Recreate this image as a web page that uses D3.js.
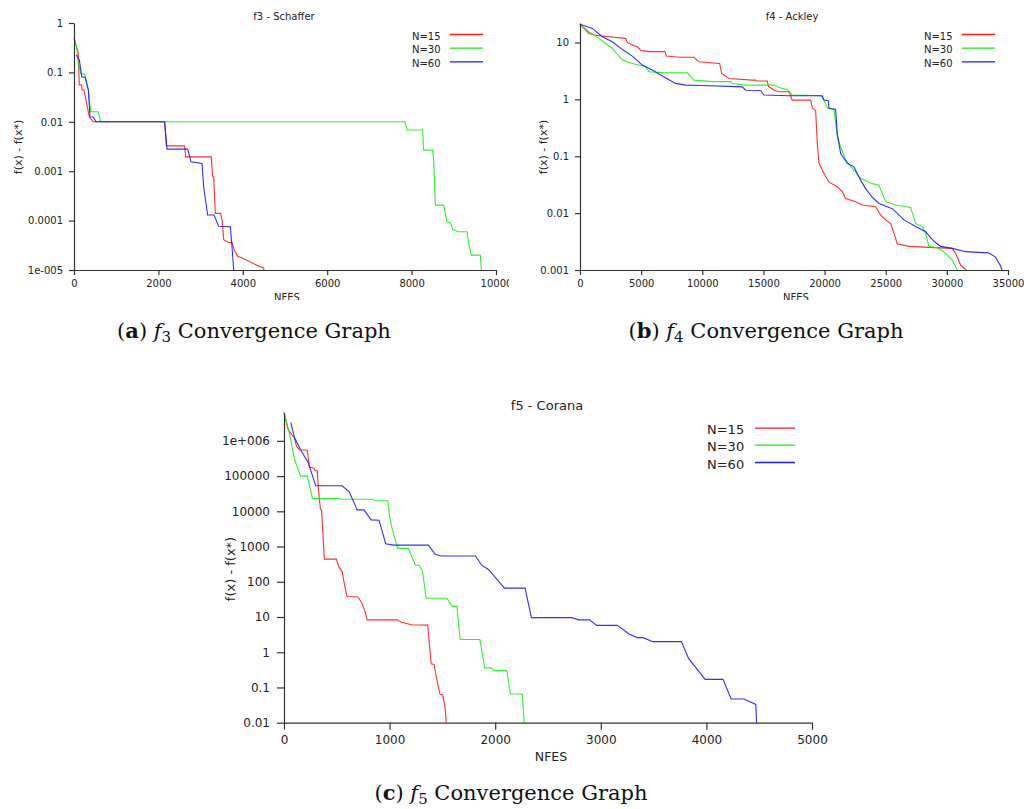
<!DOCTYPE html>
<html>
<head>
<meta charset="utf-8">
<script src="https://cdn.jsdelivr.net/npm/d3@7"></script>
<style>
  html, body { margin: 0; padding: 0; background: #fff; }
  svg { display: block; }
</style>
</head>
<body>
<svg id="chart" width="1024" height="809"></svg>
<script>
// ---------------- DATA ----------------
const seriesNames = ["N=15", "N=30", "N=60"];

// f3 - Schaffer  [NFES, f(x)-f(x*)]
const f3N15 = [[0,0.49],[100,0.25],[126,0.056],[182,0.056],[190,0.044],[237,0.044],[363,0.0126],[400,0.0115],[457,0.01],[2148,0.01],[2188,0.00326],[2622,0.00326],[2646,0.00195],[3254,0.00195],[3286,0.00077],[3310,0.00077],[3349,0.00014],[3476,0.00014],[3515,9.5e-5],[3547,4.1e-5],[3665,3.6e-5],[3744,3.6e-5],[3799,2.5e-5],[3878,1.9e-5],[3981,1.75e-5],[4179,1.45e-5],[4336,1.25e-5],[4494,1.1e-5],[4500,1e-5]];
const f3N30 = [[0,0.49],[64,0.33],[102,0.15],[159,0.096],[261,0.09],[340,0.044],[396,0.016],[576,0.016],[633,0.01],[7844,0.01],[7891,0.0068],[8262,0.0068],[8286,0.00267],[8499,0.00267],[8523,0.00167],[8563,2.06e-4],[8760,2.06e-4],[8839,9.5e-5],[8918,9.0e-5],[8981,6.5e-5],[9115,5.96e-5],[9313,5.96e-5],[9352,3.47e-5],[9415,2.0e-5],[9629,2.0e-5],[9652,1e-5]];
const f3N60 = [[50,0.225],[126,0.18],[182,0.082],[261,0.08],[340,0.044],[379,0.0126],[457,0.0125],[521,0.01],[2148,0.01],[2204,0.0028],[2694,0.0028],[2773,0.00155],[3033,0.00144],[3073,4.8e-4],[3167,1.3e-4],[3318,1.3e-4],[3428,7.7e-5],[3705,7.5e-5],[3744,2.96e-5],[3784,1e-5]];
const f3XTicks = [0, 2000, 4000, 6000, 8000, 10000];
const f3YTicks = [1, 0.1, 0.01, 0.001, 0.0001, 0.00001];
const f3YTickLabels = ["1", "0.1", "0.01", "0.001", "0.0001", "1e-005"];

// f4 - Ackley
const f4N15 = [[0,21],[736,14.4],[1281,13.4],[2371,12.6],[3734,11.8],[3870,10],[4279,9],[4688,8.4],[4960,7.3],[5642,6.9],[6950,6.9],[7059,5.76],[8095,5.5],[9321,5.5],[9730,4.57],[11420,4.27],[11583,2.85],[12183,2.33],[14091,2.18],[14363,2.18],[14418,2.1],[15317,2.1],[15399,1.71],[15862,1.45],[16271,1.36],[17089,1.36],[17361,0.97],[18861,0.97],[18997,0.71],[19270,0.63],[19406,0.168],[19542,0.075],[19951,0.05],[20360,0.035],[21041,0.029],[21450,0.024],[21723,0.018],[22540,0.0159],[23085,0.0139],[24175,0.013],[24584,0.0093],[24993,0.0076],[25402,0.0066],[25675,0.0044],[25947,0.0029],[26901,0.0026],[28536,0.0025],[30444,0.0024],[30717,0.00196],[31126,0.00122],[31589,0.001]];
const f4N30 = [[0,21],[736,15.4],[1554,11.8],[2099,9.6],[2644,7.9],[3461,4.9],[4279,4.27],[5369,3.74],[5642,3.06],[6732,2.95],[8776,2.93],[9321,2.18],[10820,2.05],[12319,2.05],[12456,1.9],[13546,1.78],[15862,1.78],[16271,1.62],[16953,1.49],[17361,1.19],[19678,1.16],[19951,0.97],[20223,0.71],[20768,0.67],[21041,0.22],[21314,0.147],[21723,0.086],[22268,0.061],[22949,0.041],[23903,0.033],[24448,0.031],[24993,0.0159],[25811,0.0139],[27037,0.0126],[27446,0.0066],[27991,0.0058],[28264,0.0044],[28536,0.0026],[29081,0.0025],[29626,0.0022],[30444,0.0015],[30853,0.001]];
const f4N60 = [[0,21],[1008,17.7],[1826,12.6],[2644,10.3],[3461,7.5],[4279,5.76],[5097,4.0],[5914,3.28],[6732,2.57],[7822,1.91],[8640,1.78],[10003,1.75],[13273,1.66],[13546,1.45],[14772,1.43],[15045,1.19],[17089,1.16],[19814,1.16],[19951,0.97],[20305,0.95],[20360,0.69],[20905,0.67],[21041,0.25],[21314,0.112],[21859,0.075],[22404,0.065],[22949,0.038],[23358,0.027],[23903,0.019],[24448,0.0148],[25538,0.012],[26492,0.0076],[27446,0.0058],[28264,0.0047],[28945,0.0032],[29490,0.0026],[30444,0.0024],[31534,0.0021],[33392,0.002],[33967,0.0017],[34375,0.0012],[34511,0.001]];
const f4XTicks = [0, 5000, 10000, 15000, 20000, 25000, 30000, 35000];
const f4YTicks = [10, 1, 0.1, 0.01, 0.001];
const f4YTickLabels = ["10", "1", "0.1", "0.01", "0.001"];

// f5 - Corana
const f5N15 = [[0,6.4e6],[34,2.3e6],[71,1.5e6],[94,1.3e6],[120,6.9e5],[146,5.6e5],[221,5.4e5],[240,1.8e5],[281,1.7e5],[296,1.45e5],[315,1.4e5],[326,4.1e4],[345,1.15e4],[356,1.1e4],[382,440],[495,440],[521,260],[551,195],[570,91],[596,38],[701,37],[738,24.5],[768,14.2],[787,8.3],[1076,8.3],[1113,7.1],[1207,6.0],[1361,5.9],[1376,1.8],[1394,0.47],[1421,0.45],[1443,0.195],[1477,0.064],[1503,0.062],[1525,0.028],[1537,0.01]];
const f5N30 = [[0,6.4e6],[45,2.0e6],[101,2.9e5],[157,1e5],[221,1e5],[270,2.3e4],[513,2.3e4],[551,2.2e4],[832,2.2e4],[870,2.0e4],[982,2.0e4],[1001,7.0e3],[1019,3.7e3],[1076,890],[1177,890],[1244,300],[1282,290],[1312,195],[1346,34],[1544,34],[1593,20],[1638,20],[1668,2.3],[1855,2.3],[1900,0.36],[1964,0.36],[1994,0.30],[2110,0.30],[2144,0.065],[2256,0.065],[2275,0.01]];
const f5N60 = [[64,3.3e6],[101,1.2e6],[157,5.6e5],[232,2.3e5],[300,5.3e4],[551,5.3e4],[618,3.6e4],[693,1.1e4],[757,1.1e4],[825,5.7e3],[900,5.6e3],[963,1.2e3],[1038,1.1e3],[1368,1.1e3],[1432,600],[1488,540],[1814,540],[1870,300],[1938,220],[2088,66],[2283,66],[2343,9.6],[2725,9.6],[2792,8.3],[2894,8.3],[2961,5.8],[3156,5.8],[3268,3.3],[3343,2.6],[3400,2.6],[3493,2.0],[3763,2.0],[3831,0.67],[3988,0.17],[4157,0.17],[4235,0.047],[4355,0.047],[4468,0.033],[4475,0.01]];
const f5XTicks = [0, 1000, 2000, 3000, 4000, 5000];
const f5YTicks = [1e6, 1e5, 1e4, 1000, 100, 10, 1, 0.1, 0.01];
const f5YTickLabels = ["1e+006", "100000", "10000", "1000", "100", "10", "1", "0.1", "0.01"];

const titles = ["f3 - Schaffer", "f4 - Ackley", "f5 - Corana"];
const xLabel = "NFES";
const yLabel = "f(x) - f(x*)";
const captionLetters = ["a", "b", "c"];
const captionSubs = ["3", "4", "5"];

// ---------------- STYLE / LAYOUT ----------------
const colors = ["#ff1a1a", "#1aee1a", "#1a1aff"];
const svg = d3.select("#chart");
const defs = svg.append("defs");

const panels = [
  { id: "a", series: [f3N15, f3N30, f3N60], xMax: 10000, yDomain: [1e-5, 1],
    xTicks: f3XTicks, yTicks: f3YTicks, yTickLabels: f3YTickLabels, title: titles[0],
    left: 74, right: 496, top: 23, bottom: 270, clip: [0, 0, 509, 300],
    titleX: 284, titleY: 20, yLabX: 18, yLabY: 147, xLabX: 287, xLabY: 300.5,
    legX: 412, legL1: 450, legL2: 483, legY: [36, 49.7, 63.3],
    fTick: 10, fTitle: 10, fLeg: 10, fYLab: 11, fXLab: 10, tick: 5, yPad: 6, xPad: 5 },
  { id: "b", series: [f4N15, f4N30, f4N60], xMax: 35000, yDomain: [1e-3, 22],
    xTicks: f4XTicks, yTicks: f4YTicks, yTickLabels: f4YTickLabels, title: titles[1],
    left: 580, right: 1008, top: 23, bottom: 270, clip: [512, 0, 512, 300],
    titleX: 792, titleY: 20, yLabX: 543, yLabY: 147, xLabX: 796, xLabY: 300.5,
    legX: 924, legL1: 962, legL2: 995, legY: [36, 49.7, 63.3],
    fTick: 10, fTitle: 10, fLeg: 10, fYLab: 11, fXLab: 10, tick: 5, yPad: 6, xPad: 5 },
  { id: "c", series: [f5N15, f5N30, f5N60], xMax: 5000, yDomain: [0.01, 6.3e6],
    xTicks: f5XTicks, yTicks: f5YTicks, yTickLabels: f5YTickLabels, title: titles[2],
    left: 284, right: 812, top: 412.7, bottom: 722.7, clip: [0, 380, 1024, 390],
    titleX: 547, titleY: 410, yLabX: 230, yLabY: 569, xLabX: 551, xLabY: 761,
    legX: 707, legL1: 755, legL2: 795, legY: [429.7, 446.7, 464],
    fTick: 12, fTitle: 13, fLeg: 13, fYLab: 13, fXLab: 12.5, tick: 7, yPad: 7, xPad: 6 }
];

const fontFam = "'DejaVu Sans', sans-serif";
const textCol = "#222";
const axisCol = "#333";

panels.forEach(p => {
  defs.append("clipPath").attr("id", "clip-" + p.id)
    .append("rect").attr("x", p.clip[0]).attr("y", p.clip[1])
    .attr("width", p.clip[2]).attr("height", p.clip[3]);
  const g = svg.append("g").attr("clip-path", `url(#clip-${p.id})`);

  const x = d3.scaleLinear().domain([0, p.xMax]).range([p.left, p.right]);
  const y = d3.scaleLog().domain(p.yDomain).range([p.bottom, p.top]).clamp(true);

  // title
  g.append("text").attr("x", p.titleX).attr("y", p.titleY)
    .attr("text-anchor", "middle").attr("font-family", fontFam)
    .attr("font-size", p.fTitle).attr("fill", textCol).text(p.title);

  // lines
  const line = d3.line().x(d => x(d[0])).y(d => y(d[1]));
  p.series.forEach((s, i) => {
    g.append("path").datum(s).attr("d", line)
      .attr("fill", "none").attr("stroke", colors[i])
      .attr("stroke-width", 1.1).attr("stroke-opacity", 0.9);
  });

  // axes
  const yAxis = d3.axisLeft(y).tickValues(p.yTicks)
    .tickFormat((d, i) => p.yTickLabels[i])
    .tickSize(p.tick).tickSizeOuter(0).tickPadding(p.yPad);
  const ya = g.append("g").attr("transform", `translate(${p.left},0)`).call(yAxis);
  const xAxis = d3.axisBottom(x).tickValues(p.xTicks)
    .tickFormat(d3.format("d"))
    .tickSize(p.tick).tickSizeOuter(0).tickPadding(p.xPad);
  const xa = g.append("g").attr("transform", `translate(0,${p.bottom})`).call(xAxis);
  [ya, xa].forEach(a => {
    a.selectAll("path.domain").attr("stroke", axisCol).attr("stroke-width", 1.2);
    a.selectAll(".tick line").attr("stroke", axisCol).attr("stroke-width", 1.2);
    a.selectAll(".tick text").attr("font-family", fontFam)
      .attr("font-size", p.fTick).attr("fill", textCol);
  });

  // axis labels
  g.append("text").attr("x", p.xLabX).attr("y", p.xLabY)
    .attr("text-anchor", "middle").attr("font-family", fontFam)
    .attr("font-size", p.fXLab).attr("fill", textCol).text(xLabel);
  g.append("text")
    .attr("transform", `translate(${p.yLabX},${p.yLabY}) rotate(-90)`)
    .attr("text-anchor", "middle").attr("dominant-baseline", "central")
    .attr("font-family", fontFam).attr("font-size", p.fYLab)
    .attr("fill", textCol).text(yLabel);

  // legend
  seriesNames.forEach((n, i) => {
    g.append("text").attr("x", p.legX).attr("y", p.legY[i])
      .attr("dominant-baseline", "central").attr("font-family", fontFam)
      .attr("font-size", p.fLeg).attr("fill", textCol).text(n);
    g.append("line").attr("x1", p.legL1).attr("x2", p.legL2)
      .attr("y1", p.legY[i] - 1.5).attr("y2", p.legY[i] - 1.5)
      .attr("stroke", colors[i]).attr("stroke-width", 1.3);
  });
});

// captions
const captions = [
  { x: 254, y: 338 }, { x: 766, y: 338 }, { x: 511, y: 800 }
];
captions.forEach((c, i) => {
  const t = svg.append("text").attr("x", c.x).attr("y", c.y)
    .attr("text-anchor", "middle").attr("font-family", "'DejaVu Serif', serif")
    .attr("font-size", 21).attr("fill", "#111");
  t.append("tspan").text("(");
  t.append("tspan").attr("font-weight", "bold").text(captionLetters[i]);
  t.append("tspan").text(") ");
  t.append("tspan").attr("font-style", "italic").text("f");
  t.append("tspan").attr("font-size", 15).attr("dy", 4).text(captionSubs[i]);
  t.append("tspan").attr("dy", -4).text(" Convergence Graph");
});
</script>
</body>
</html>
